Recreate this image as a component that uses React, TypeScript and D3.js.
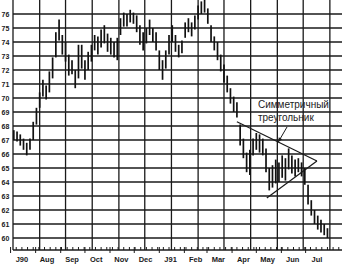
import React from 'react';
import * as d3 from 'd3';

const dates = [
  '1990-07-05','1990-07-09','1990-07-13','1990-07-17','1990-07-21','1990-07-25','1990-07-29',
  '1990-08-02','1990-08-06','1990-08-10','1990-08-14','1990-08-18','1990-08-22','1990-08-26','1990-08-30',
  '1990-09-03','1990-09-07','1990-09-11','1990-09-15','1990-09-19','1990-09-23','1990-09-27',
  '1990-10-01','1990-10-05','1990-10-09','1990-10-13','1990-10-17','1990-10-21','1990-10-25','1990-10-29',
  '1990-11-02','1990-11-06','1990-11-10','1990-11-14','1990-11-18','1990-11-22','1990-11-26','1990-11-30',
  '1990-12-04','1990-12-08','1990-12-12','1990-12-16','1990-12-20','1990-12-24','1990-12-28',
  '1991-01-01','1991-01-05','1991-01-09','1991-01-13','1991-01-17','1991-01-21','1991-01-25','1991-01-29',
  '1991-02-02','1991-02-06','1991-02-10','1991-02-14','1991-02-18','1991-02-22','1991-02-26',
  '1991-03-02','1991-03-06','1991-03-10','1991-03-14','1991-03-18','1991-03-22','1991-03-26','1991-03-30',
  '1991-04-03','1991-04-07','1991-04-11','1991-04-15','1991-04-19','1991-04-23','1991-04-27',
  '1991-05-01','1991-05-05','1991-05-09','1991-05-13','1991-05-17','1991-05-21','1991-05-25','1991-05-29',
  '1991-06-02','1991-06-06','1991-06-10','1991-06-14','1991-06-18','1991-06-22','1991-06-26','1991-06-30',
  '1991-07-04','1991-07-08','1991-07-12','1991-07-16','1991-07-20','1991-07-24','1991-07-28',
];

const highs = [
  67.7, 67.6, 67.4, 67.1, 66.8, 67.1, 68.3, 69.3, 70.4, 71.3,
  70.9, 71.9, 72.9, 74.7, 75.6, 74.5, 74.0, 73.1, 72.7, 72.0,
  73.8, 73.8, 72.7, 73.3, 73.8, 74.5, 74.4, 74.9, 75.2, 74.6,
  74.3, 74.0, 74.3, 75.7, 76.1, 76.0, 76.3, 76.1, 75.9, 75.2,
  74.7, 75.0, 75.6, 75.0, 74.7, 73.4, 72.7, 73.4, 74.5, 75.2,
  74.5, 73.8, 74.1, 75.4, 75.7, 75.4, 75.9, 76.6, 76.9, 77.0,
  76.4, 75.2, 74.4, 74.0, 73.1, 72.4, 71.6, 70.7, 70.1, 69.7,
  68.1, 67.1, 66.1, 66.3, 67.1, 67.5, 67.4, 67.1, 66.4, 65.0,
  65.2, 65.6, 65.4, 65.9, 65.7, 66.4, 65.9, 65.6, 65.7, 65.4,
  65.0, 63.8, 62.7, 62.0, 61.6, 61.3, 61.0, 60.7,
];

const lows = [
  67.0, 66.9, 66.6, 66.3, 65.9, 66.3, 67.0, 68.1, 69.3, 70.1,
  69.9, 70.4, 71.4, 72.9, 74.1, 73.1, 72.6, 71.6, 71.7, 70.7,
  71.4, 72.1, 71.3, 72.0, 72.6, 73.4, 73.1, 73.6, 73.9, 73.3,
  73.1, 72.9, 72.7, 74.5, 75.1, 75.1, 75.4, 75.3, 74.7, 73.8,
  73.4, 73.9, 74.5, 74.0, 73.4, 72.0, 71.3, 72.1, 73.1, 74.0,
  73.3, 72.9, 73.2, 74.3, 74.7, 74.4, 74.9, 75.6, 76.0, 76.1,
  75.3, 74.0, 73.4, 72.7, 71.9, 71.1, 70.4, 69.6, 69.0, 68.6,
  66.6, 65.7, 64.7, 64.5, 65.9, 66.3, 66.1, 65.9, 64.7, 63.4,
  63.6, 63.9, 64.0, 64.3, 64.1, 64.9, 64.6, 64.4, 64.7, 64.4,
  63.8, 62.4, 61.6, 61.0, 60.6, 60.4, 60.2, 60.0,
];

const yTicks = [60, 61, 62, 63, 64, 65, 66, 67, 68, 69, 70, 71, 72, 73, 74, 75, 76];
const monthLabels = ['J90', 'Aug', 'Sep', 'Oct', 'Nov', 'Dec', 'J91', 'Feb', 'Mar', 'Apr', 'May', 'Jun', 'Jul'];

const upperTrendDates = ['1991-04-07', '1991-07-15'];
const upperTrendPrices = [68.3, 65.5];
const lowerTrendDates = ['1991-05-14', '1991-07-15'];
const lowerTrendPrices = [62.85, 65.5];

const annotationLines = ['Симметричный', 'треугольник'];
const annotationDate = '1991-05-03';
const annotationPrice = 69.3;
const arrowDates = ['1991-06-08', '1991-05-28'];
const arrowPrices = [67.93, 66.84];

const W = 342;
const H = 267;

export default function App() {
  const parse = d3.timeParse('%Y-%m-%d');
  const start = new Date(1990, 6, 4);
  const end = new Date(1991, 7, 15);
  const x = d3.scaleTime().domain([start, end]).range([13, 342]);
  const y = d3.scaleLinear().domain([60, 76]).range([238, 14]);
  const axisY = 250;
  const ink = '#1a1a1a';

  const gridDates = d3.range(13).map((i) => d3.timeDay.offset(start, Math.round(i * 32.66)));
  const months = d3.timeMonth.range(new Date(1990, 6, 1), new Date(1991, 7, 1));
  const weeks = d3.timeWeek.range(start, end);

  const line = d3.line<[Date, number]>().x((d) => x(d[0])).y((d) => y(d[1]));
  const upper = line(upperTrendDates.map((d, i) => [parse(d)!, upperTrendPrices[i]]));
  const lower = line(lowerTrendDates.map((d, i) => [parse(d)!, lowerTrendPrices[i]]));

  const ax0 = x(parse(arrowDates[0])!);
  const ay0 = y(arrowPrices[0]);
  const ax1 = x(parse(arrowDates[1])!);
  const ay1 = y(arrowPrices[1]);
  const ang = Math.atan2(ay1 - ay0, ax1 - ax0);
  const hl = 5;
  const head = [
    [ax1, ay1],
    [ax1 - hl * Math.cos(ang - 0.4), ay1 - hl * Math.sin(ang - 0.4)],
    [ax1 - hl * Math.cos(ang + 0.4), ay1 - hl * Math.sin(ang + 0.4)],
  ];

  return (
    <svg
      width={W}
      height={H}
      style={{ position: 'absolute', left: 0, top: 0, background: '#fff' }}
      fontFamily="'Liberation Sans', Arial, sans-serif"
    >
      <rect width={W} height={H} fill="#fff" />
      {yTicks.map((t) => (
        <line key={'h' + t} x1={13} x2={W} y1={y(t)} y2={y(t)} stroke={ink} strokeWidth={1.3} />
      ))}
      {gridDates.map((d, i) => (
        <line key={'v' + i} x1={x(d)} x2={x(d)} y1={0} y2={axisY} stroke={ink} strokeWidth={1.3} />
      ))}
      <line x1={13} x2={W} y1={axisY} y2={axisY} stroke={ink} strokeWidth={1.4} />
      {weeks.map((d, i) => (
        <line key={'w' + i} x1={x(d)} x2={x(d)} y1={axisY - 3} y2={axisY} stroke={ink} strokeWidth={1} />
      ))}
      {months.map((d, i) => (
        <line key={'m' + i} x1={x(d)} x2={x(d)} y1={axisY - 3} y2={axisY + 3} stroke={ink} strokeWidth={1} />
      ))}
      {yTicks.map((t) => (
        <text key={'yl' + t} x={1.5} y={y(t) + 2.5} fontSize={7} fontWeight="bold" fill={ink}>
          {t}
        </text>
      ))}
      {months.map((d, i) => (
        <text
          key={'ml' + i}
          x={x(d3.timeDay.offset(d, 14))}
          y={262}
          fontSize={7.5}
          fontWeight="bold"
          textAnchor="middle"
          fill={ink}
        >
          {monthLabels[i]}
        </text>
      ))}
      {dates.map((d, i) => {
        const xx = x(parse(d)!);
        return (
          <line
            key={'b' + i}
            x1={xx}
            x2={xx}
            y1={y(highs[i])}
            y2={y(lows[i])}
            stroke="#111"
            strokeWidth={1.7}
          />
        );
      })}
      <path d={upper!} stroke={ink} strokeWidth={1.2} fill="none" />
      <path d={lower!} stroke={ink} strokeWidth={1.2} fill="none" />
      {annotationLines.map((t, i) => (
        <text
          key={'a' + i}
          x={x(parse(annotationDate)!)}
          y={y(annotationPrice) + i * 13}
          fontSize={10}
          fill="#222"
        >
          {t}
        </text>
      ))}
      <line x1={ax0} y1={ay0} x2={ax1} y2={ay1} stroke={ink} strokeWidth={1} />
      <polygon points={head.map((p) => p.join(',')).join(' ')} fill={ink} />
    </svg>
  );
}
